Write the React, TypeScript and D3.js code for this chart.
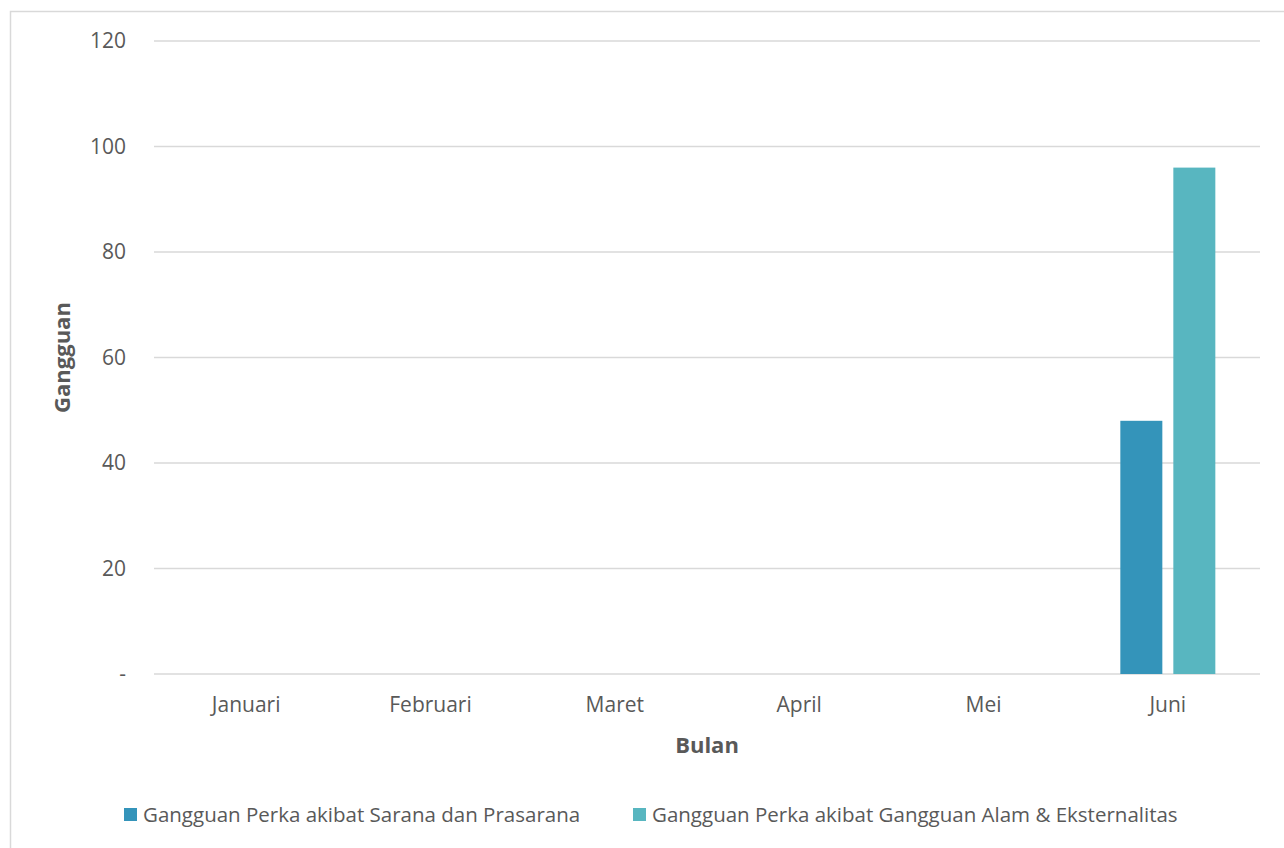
import React, { useRef, useEffect } from "react";
import * as d3 from "d3";

const months = ["Januari", "Februari", "Maret", "April", "Mei", "Juni"];
const seriesNames = [
  "Gangguan Perka akibat Sarana dan Prasarana",
  "Gangguan Perka akibat Gangguan Alam & Eksternalitas",
];
const saranaValues = [0, 0, 0, 0, 0, 48];
const alamValues = [0, 0, 0, 0, 0, 96];
const yTicks = [0, 20, 40, 60, 80, 100, 120];
const colors = ["#3494BA", "#58B6C0"];

const FONT = "'Open Sans', 'Noto Sans', sans-serif";

const App = () => {
  const chartRef = useRef<SVGSVGElement | null>(null);

  useEffect(() => {
    if (!chartRef.current) return;
    const W = 1284;
    const H = 848;
    const left = 154;
    const right = 1260;
    const top = 41;
    const bottom = 674;

    const svg = d3.select(chartRef.current);
    svg.selectAll("*").remove();
    svg.attr("width", W).attr("height", H);

    // chart frame
    svg.append("rect")
      .attr("x", 10.5).attr("y", 11.5)
      .attr("width", W).attr("height", H)
      .attr("fill", "#fff")
      .attr("stroke", "#d9d9d9")
      .attr("stroke-width", 1.5);

    const x0 = d3.scaleBand().domain(months).range([left, right]).padding(0);
    const groupW = 95;
    const x1 = d3.scaleBand()
      .domain(seriesNames)
      .range([x0.bandwidth() / 2 - groupW / 2, x0.bandwidth() / 2 + groupW / 2])
      .paddingInner(0.2075)
      .paddingOuter(0);
    const y = d3.scaleLinear().domain([0, 120]).range([bottom, top]);

    // gridlines
    svg.append("g")
      .selectAll("line")
      .data(yTicks)
      .enter()
      .append("line")
      .attr("x1", left).attr("x2", right)
      .attr("y1", d => y(d)).attr("y2", d => y(d))
      .attr("stroke", "#d9d9d9")
      .attr("stroke-width", 1.5);

    // y tick labels
    svg.append("g")
      .selectAll("text")
      .data(yTicks)
      .enter()
      .append("text")
      .attr("x", 126)
      .attr("y", d => y(d))
      .attr("dy", "0.35em")
      .attr("text-anchor", "end")
      .attr("font-family", FONT)
      .attr("font-size", 21)
      .attr("fill", "#595959")
      .text(d => (d === 0 ? "-" : String(d)));

    // bars
    const rows = months.map((m, i) => ({ month: m, vals: [saranaValues[i], alamValues[i]] }));
    const groups = svg.append("g")
      .selectAll("g")
      .data(rows)
      .enter()
      .append("g")
      .attr("transform", d => `translate(${x0(d.month)},0)`);

    groups.selectAll("rect")
      .data(d => d.vals.map((v, j) => ({ name: seriesNames[j], v, j })))
      .enter()
      .append("rect")
      .attr("x", d => x1(d.name) as number)
      .attr("width", x1.bandwidth())
      .attr("y", d => y(d.v))
      .attr("height", d => y(0) - y(d.v))
      .attr("fill", d => colors[d.j]);

    // x labels
    svg.append("g")
      .selectAll("text")
      .data(months)
      .enter()
      .append("text")
      .attr("x", d => (x0(d) as number) + x0.bandwidth() / 2)
      .attr("y", 705)
      .attr("dy", "0.35em")
      .attr("text-anchor", "middle")
      .attr("font-family", FONT)
      .attr("font-size", 21)
      .attr("fill", "#595959")
      .text(d => d);

    // axis titles
    svg.append("text")
      .attr("x", (left + right) / 2)
      .attr("y", 745)
      .attr("dy", "0.35em")
      .attr("text-anchor", "middle")
      .attr("font-family", FONT)
      .attr("font-size", 22)
      .attr("font-weight", "bold")
      .attr("fill", "#595959")
      .text("Bulan");

    svg.append("text")
      .attr("transform", `translate(62,${(top + bottom) / 2}) rotate(-90)`)
      .attr("dy", "0.35em")
      .attr("text-anchor", "middle")
      .attr("font-family", FONT)
      .attr("font-size", 22)
      .attr("font-weight", "bold")
      .attr("fill", "#595959")
      .text("Gangguan");

    // legend
    const legendX = [124, 633];
    const legend = svg.append("g")
      .selectAll("g")
      .data(seriesNames)
      .enter()
      .append("g")
      .attr("transform", (d, i) => `translate(${legendX[i]},815)`);

    legend.append("rect")
      .attr("x", 0).attr("y", -7)
      .attr("width", 13).attr("height", 13)
      .attr("fill", (d, i) => colors[i]);

    legend.append("text")
      .attr("x", 19)
      .attr("y", 0)
      .attr("dy", "0.35em")
      .attr("font-family", FONT)
      .attr("font-size", 20.5)
      .attr("fill", "#595959")
      .text(d => d);
  }, []);

  return <svg ref={chartRef} style={{ position: "absolute", left: 0, top: 0 }}></svg>;
};

export default App;
